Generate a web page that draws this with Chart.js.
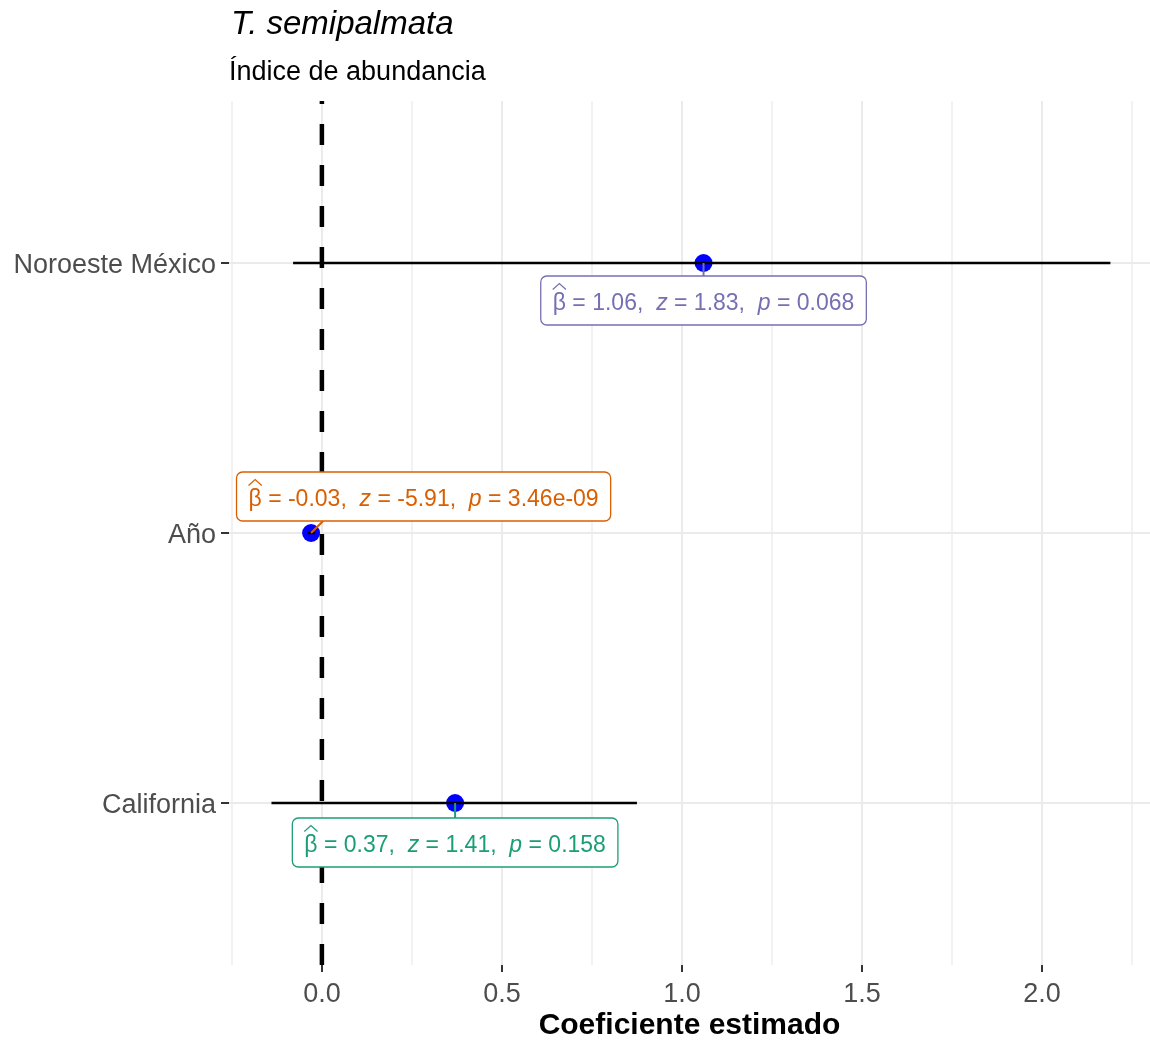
<!DOCTYPE html>
<html>
<head>
<meta charset="utf-8">
<script src="https://cdn.jsdelivr.net/npm/chart.js@4.4.1/dist/chart.umd.min.js"></script>
<style>
    html, body { margin: 0; padding: 0; background: #ffffff; }
    #wrap { width: 1150px; height: 1044px; }
</style>
</head>
<body>
<div id="wrap"><canvas id="coefChart" width="1150" height="1044"></canvas></div>
<script>
// terms from bottom to top (y = 1, 2, 3)
const terms = ["California", "Año", "Noroeste México"];
const estimates = [0.37, -0.03, 1.06];
const ciLow = [-0.14, -0.04, -0.08];
const ciHigh = [0.875, -0.02, 2.19];
const zValues = ["1.41", "-5.91", "1.83"];
const pValues = ["0.158", "3.46e-09", "0.068"];
const labelColors = ["#1B9E77", "#D95F02", "#7570B3"];
const xTicks = [-0.25, 0, 0.25, 0.5, 0.75, 1, 1.25, 1.5, 1.75, 2, 2.25];

// where each label box sits relative to its point (pixels)
const labelLayout = [
    { dx: 0, dy: 39.5, linkDx: 0, side: "top" },
    { dx: 112.5, dy: -36.5, linkDx: 12, side: "bottom" },
    { dx: 0, dy: 37.5, linkDx: 0, side: "top" }
];

const FONT = "'Liberation Sans', Arial, sans-serif";

function isMajor(v) {
    return Math.abs(v * 2 - Math.round(v * 2)) < 1e-6;
}

function roundRectPath(ctx, x, y, w, h, r) {
    ctx.beginPath();
    ctx.moveTo(x + r, y);
    ctx.lineTo(x + w - r, y);
    ctx.arcTo(x + w, y, x + w, y + r, r);
    ctx.lineTo(x + w, y + h - r);
    ctx.arcTo(x + w, y + h, x + w - r, y + h, r);
    ctx.lineTo(x + r, y + h);
    ctx.arcTo(x, y + h, x, y + h - r, r);
    ctx.lineTo(x, y + r);
    ctx.arcTo(x, y, x + r, y, r);
    ctx.closePath();
}

// stats labels (beta hat, z, p) drawn in boxes next to the points
const statLabels = {
    id: "statLabels",
    afterDatasetsDraw(chart) {
        const ctx = chart.ctx;
        const xs = chart.scales.x, ys = chart.scales.y;
        const size = 23;
        const reg = size + "px " + FONT;
        const ita = "italic " + size + "px " + FONT;

        estimates.forEach((est, i) => {
            const px = xs.getPixelForValue(est);
            const py = ys.getPixelForValue(i + 1);
            const lay = labelLayout[i];
            const parts = [
                { t: "β", f: reg, hat: true },
                { t: " = " + est.toFixed(2) + ",  ", f: reg },
                { t: "z", f: ita },
                { t: " = " + zValues[i] + ",  ", f: reg },
                { t: "p", f: ita },
                { t: " = " + pValues[i], f: reg }
            ];
            ctx.save();
            let textW = 0;
            parts.forEach(p => { ctx.font = p.f; p.w = ctx.measureText(p.t).width; textW += p.w; });
            const boxW = textW + 24, boxH = 49;
            const cx = px + lay.dx, cy = py + lay.dy;
            const bx = cx - boxW / 2, by = cy - boxH / 2;

            // connector
            ctx.strokeStyle = labelColors[i];
            ctx.lineWidth = 2;
            ctx.beginPath();
            ctx.moveTo(px, py);
            ctx.lineTo(px + lay.linkDx, lay.side === "top" ? by : by + boxH);
            ctx.stroke();

            // box
            roundRectPath(ctx, bx, by, boxW, boxH, 6);
            ctx.fillStyle = "#ffffff";
            ctx.fill();
            ctx.lineWidth = 1.3;
            ctx.stroke();

            // text
            ctx.fillStyle = labelColors[i];
            ctx.textBaseline = "middle";
            ctx.textAlign = "left";
            let tx = cx - textW / 2;
            const ty = cy + 3;
            parts.forEach(p => {
                ctx.font = p.f;
                ctx.fillText(p.t, tx, ty);
                if (p.hat) {
                    ctx.lineWidth = 1.2;
                    ctx.beginPath();
                    ctx.moveTo(tx, ty - 14);
                    ctx.lineTo(tx + p.w / 2, ty - 20);
                    ctx.lineTo(tx + p.w, ty - 14);
                    ctx.stroke();
                }
                tx += p.w;
            });
            ctx.restore();
        });
    }
};

// title and subtitle, aligned with the panel
const titles = {
    id: "titles",
    afterDraw(chart) {
        const ctx = chart.ctx;
        const left = chart.chartArea.left + 1;
        ctx.save();
        ctx.fillStyle = "#000000";
        ctx.textBaseline = "middle";
        ctx.textAlign = "left";
        ctx.font = "italic 33px " + FONT;
        ctx.fillText("T. semipalmata", left + 1, 25);
        ctx.font = "27px " + FONT;
        ctx.fillText("Índice de abundancia", left - 1, 73);
        ctx.restore();
    }
};

const datasets = [];
datasets.push({
    type: "line",
    data: [{ x: 0, y: 0.4 }, { x: 0, y: 3.6 }],
    borderColor: "#000000",
    borderWidth: 4.5,
    borderDash: [21, 20],
    pointRadius: 0
});
terms.forEach((t, i) => {
    datasets.push({
        type: "line",
        data: [{ x: ciLow[i], y: i + 1 }, { x: ciHigh[i], y: i + 1 }],
        borderColor: "#000000",
        borderWidth: 2.5,
        pointRadius: 0
    });
});
datasets.push({
    type: "scatter",
    data: estimates.map((e, i) => ({ x: e, y: i + 1 })),
    backgroundColor: "#0000ff",
    borderWidth: 0,
    pointRadius: 9
});

const ctx = document.getElementById("coefChart").getContext("2d");
new Chart(ctx, {
    type: "scatter",
    data: { datasets: datasets },
    options: {
        responsive: false,
        devicePixelRatio: 1,
        animation: false,
        layout: { autoPadding: false, padding: { top: 101, right: 0, left: 0, bottom: 0 } },
        plugins: { legend: { display: false }, tooltip: { enabled: false } },
        scales: {
            x: {
                type: "linear",
                min: -0.258,
                max: 2.3,
                afterBuildTicks: scale => { scale.ticks = xTicks.map(v => ({ value: v })); },
                afterFit: scale => {
                    scale.height = 79;
                    scale.paddingLeft = 0;
                    scale.paddingRight = 0;
                },
                border: { display: false },
                grid: {
                    color: c => (c.tick && isMajor(c.tick.value)) ? "#ebebeb" : "#f2f2f2",
                    lineWidth: 2,
                    tickColor: c => (c.tick && isMajor(c.tick.value)) ? "#333333" : "rgba(0,0,0,0)",
                    tickLength: 7,
                    tickWidth: 2
                },
                ticks: {
                    autoSkip: false,
                    maxRotation: 0,
                    padding: 6,
                    color: "#4d4d4d",
                    font: { family: FONT, size: 27 },
                    callback: v => isMajor(v) ? v.toFixed(1) : ""
                },
                title: {
                    display: true,
                    text: "Coeficiente estimado",
                    color: "#000000",
                    font: { family: FONT, size: 30, weight: "bold" },
                    padding: { top: 0, bottom: 0 }
                }
            },
            y: {
                type: "linear",
                min: 0.4,
                max: 3.6,
                afterBuildTicks: scale => { scale.ticks = [1, 2, 3].map(v => ({ value: v })); },
                afterFit: scale => { scale.width = 229; },
                border: { display: false },
                grid: {
                    color: "#ebebeb",
                    lineWidth: 2,
                    tickColor: "#333333",
                    tickLength: 8,
                    tickWidth: 2
                },
                ticks: {
                    padding: 5,
                    labelOffset: 3,
                    color: "#4d4d4d",
                    font: { family: FONT, size: 27 },
                    callback: v => terms[v - 1]
                }
            }
        }
    },
    plugins: [statLabels, titles]
});
</script>
</body>
</html>
